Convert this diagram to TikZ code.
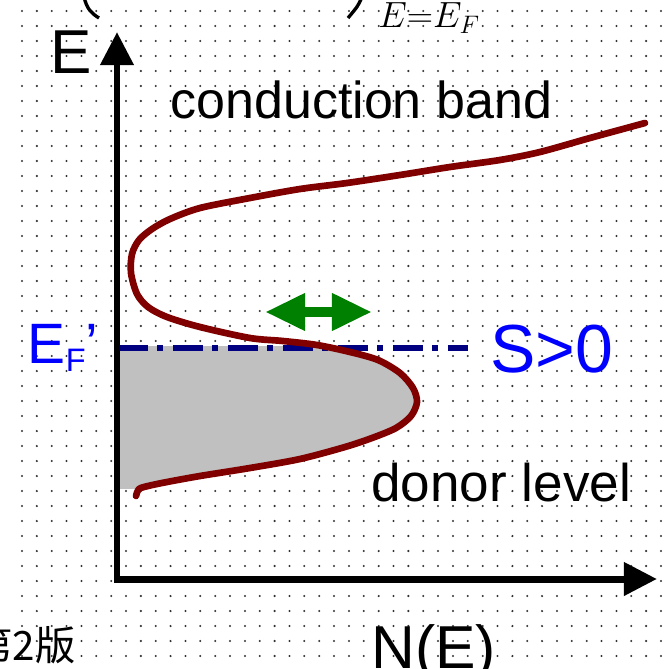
\documentclass[tikz,border=0pt]{standalone}
\usepackage[no-math]{fontspec}
\setmainfont{Liberation Sans}
\newfontfamily\cjkfont{Noto Sans CJK SC}
\usetikzlibrary{arrows.meta}
\definecolor{dosred}{HTML}{800000}
\definecolor{fermiblue}{HTML}{000080}
\definecolor{labelblue}{HTML}{0000FF}
\definecolor{shiftgreen}{HTML}{008000}
\definecolor{filledgray}{HTML}{C0C0C0}
\definecolor{dotgray}{HTML}{333333}

\newcommand\doscurve{plot[smooth] coordinates {
  (136,496) (139,489) (148,486) (167,482) (200,476) (250,468) (300,459)
  (345,447) (372,438) (396,428) (411,416) (417,402) (413,388) (400,373)
  (378,360) (350,352) (317,345) (283,341) (250,338) (200,327) (167,317)
  (148,307) (137,294) (131,273) (132,254) (139,240) (152,229) (170,219)
  (200,208) (250,198) (300,189) (347,183) (400,175) (450,167) (500,160)
  (540,152) (590,138) (645,123)}}

\begin{document}
\begin{tikzpicture}[
  x=0.02cm, y=-0.02cm,
  griddot/.style={fill=dotgray},
  axisline/.style={
    draw=black,
    line width=3.98pt,
    line join=miter,
    {Triangle[length=18.8pt,width=18.2pt]}-{Triangle[length=18.8pt,width=18.2pt]}
  },
  dosline/.style={
    draw=dosred,
    line width=3.8pt,
    line cap=round,
    line join=round
  },
  fermiline/.style={
    draw=fermiblue,
    line width=3.4pt,
    dash pattern=on 17.07pt off 5.12pt on 3.41pt off 5.69pt
  },
  shiftarrow/.style={
    draw=shiftgreen,
    line width=5.69pt,
    {Triangle[length=22.8pt,width=19.9pt]}-{Triangle[length=22.8pt,width=19.9pt]}
  },
  bandlabel/.style={
    anchor=base west,
    inner sep=0pt,
    font=\fontsize{29.6}{32}\selectfont
  },
  axislabel/.style={
    anchor=base west,
    inner sep=0pt,
    font=\fontsize{34.5}{38}\selectfont
  }
]

\useasboundingbox (0,0) rectangle (669,669);
\fill[white] (0,0) rectangle (669,669);

\foreach \i in {0,...,43}
  \foreach \j in {0,...,43}
    \fill[griddot] (22+14.86*\i,11+15*\j) circle[radius=0.65pt];

\begin{scope}
  \clip (120,346) rectangle (440,488);
  \fill[filledgray] \doscurve -- (645,100) -- (0,100) -- (0,520) -- (136,520) -- cycle;
\end{scope}

\coordinate (efleft) at (118,348);
\coordinate (efright) at (468,348);
\draw[fermiline] (efleft) -- (efright);

\draw[dosline] \doscurve;

\coordinate (origin) at (117,579);
\coordinate (etip) at (117,32);
\coordinate (ntip) at (657,579);
\draw[axisline] (etip) -- (origin) -- (ntip);

\coordinate (shiftleft) at (265,312);
\coordinate (shiftright) at (372,312);
\draw[shiftarrow] (shiftleft) -- (shiftright);

\draw[line width=1.9pt] (84,-3) .. controls (87,9) and (91,13) .. (99,18);
\draw[line width=1.9pt] (362,-3) .. controls (358,6) .. (348,18);
\node[anchor=base west,inner sep=0pt,font=\fontsize{21.5}{23}\selectfont] (evalue)
  at (378,28) {$E{=}E_F$};

\node[axislabel,font=\fontsize{35.3}{38}\selectfont] (elabel) at (50,73) {E};
\node[axislabel] (nlabel) at (371,668) {N(E)};

\node[bandlabel] (cblabel) at (170,118) {conduction band};
\node[bandlabel,font=\fontsize{30.2}{32}\selectfont] (dllabel) at (371,501) {donor level};

\node[anchor=base west,inner sep=0pt,text=labelblue,font=\fontsize{38.7}{42}\selectfont]
  (slabel) at (490,372) {S>0};
\node[anchor=base west,inner sep=0pt,text=labelblue,font=\fontsize{32.4}{36}\selectfont]
  (eflabel) at (27.5,363) {E\raisebox{-5.1pt}{\fontsize{18.5}{20}\selectfont F}{\char"0027}};

\node[anchor=east,inner sep=0pt,font=\cjkfont\fontsize{23}{25}\selectfont] (edition)
  at (76,645) {第2版};

\end{tikzpicture}
\end{document}
